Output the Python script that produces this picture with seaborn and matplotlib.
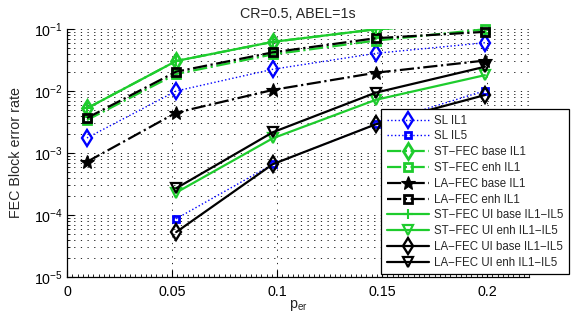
import numpy as np
import matplotlib
matplotlib.use("Agg")
import matplotlib.pyplot as plt
import matplotlib.ticker as mticker
import seaborn as sns

# ---- data ----
p_er = [0.0095, 0.052, 0.098, 0.147, 0.199]
sl_il1 = [1.75e-3, 1.0e-2, 2.24e-2, 4.05e-2, 6.0e-2]
sl_il5 = [np.nan, 8.7e-5, 6.6e-4, 2.9e-3, 1.01e-2]
st_base_il1 = [5.25e-3, 3.05e-2, 6.2e-2, 9.9e-2, 1.3e-1]
st_enh_il1 = [3.4e-3, 1.88e-2, 3.9e-2, 6.5e-2, 9.9e-2]
la_base_il1 = [7.2e-4, 4.47e-3, 1.04e-2, 1.97e-2, 3.1e-2]
la_enh_il1 = [3.67e-3, 2.05e-2, 4.2e-2, 7.1e-2, 9.0e-2]
st_ui_base = [5.25e-3, 3.05e-2, 6.2e-2, 9.9e-2, 1.3e-1]
st_ui_enh = [np.nan, 2.3e-4, 1.73e-3, 7.2e-3, 1.8e-2]
la_ui_base = [np.nan, 5.3e-5, 6.6e-4, 2.9e-3, 8.6e-3]
la_ui_enh = [np.nan, 2.7e-4, 2.16e-3, 9.4e-3, 2.46e-2]

labels = ["SL IL1", "SL IL5", "ST\u2212FEC base IL1", "ST\u2212FEC enh IL1",
          "LA\u2212FEC base IL1", "LA\u2212FEC enh IL1",
          "ST\u2212FEC UI base IL1\u2212IL5", "ST\u2212FEC UI enh IL1\u2212IL5",
          "LA\u2212FEC UI base IL1\u2212IL5", "LA\u2212FEC UI enh IL1\u2212IL5"]
x_ticks = [0, 0.05, 0.1, 0.15, 0.2]
x_ticklabels = ["0", "0.05", "0.1", "0.15", "0.2"]
y_ticks = [1e-5, 1e-4, 1e-3, 1e-2, 1e-1]
title = "CR=0.5, ABEL=1s"
ylabel = "FEC Block error rate"
xlabel = r"$\mathregular{p_{er}}$"

sns.set_style("ticks")
plt.rcParams["font.family"] = ["Liberation Sans", "DejaVu Sans"]
plt.rcParams["mathtext.fontset"] = "custom"
plt.rcParams["mathtext.rm"] = "Liberation Sans"
plt.rcParams["mathtext.default"] = "regular"

GREEN = "#1ecc2d"
BLUE = "#0000ff"
BLACK = "#000000"

fig = plt.figure(figsize=(5.71, 3.26), dpi=100)
ax = fig.add_axes([67 / 571, 49 / 326, 462 / 571, 248 / 326])

series = [
    (sl_il1, dict(color=BLUE, linestyle=":", linewidth=1.0, marker="d", markersize=8.5, mfc="none", mew=1.7)),
    (sl_il5, dict(color=BLUE, linestyle=":", linewidth=1.0, marker="s", markersize=5, mfc="none", mew=2.0)),
    (st_base_il1, dict(color=GREEN, linestyle="-.", linewidth=1.6, marker="d", markersize=8.5, mfc="none", mew=2.0)),
    (st_enh_il1, dict(color=GREEN, linestyle="-.", linewidth=1.6, marker="s", markersize=5.5, mfc="none", mew=2.0)),
    (la_base_il1, dict(color=BLACK, linestyle="-.", linewidth=1.6, marker="*", markersize=10.5, mfc=BLACK, mew=0.8)),
    (la_enh_il1, dict(color=BLACK, linestyle="-.", linewidth=1.6, marker="s", markersize=5.5, mfc="none", mew=2.0)),
    (st_ui_base, dict(color=GREEN, linestyle="-", linewidth=1.6, marker="+", markersize=6.5, mfc="none", mew=1.5)),
    (st_ui_enh, dict(color=GREEN, linestyle="-", linewidth=1.6, marker="v", markersize=7.5, mfc="none", mew=1.6)),
    (la_ui_base, dict(color=BLACK, linestyle="-", linewidth=1.6, marker="d", markersize=8.5, mfc="none", mew=1.7)),
    (la_ui_enh, dict(color=BLACK, linestyle="-", linewidth=1.6, marker="v", markersize=7.5, mfc="none", mew=1.6)),
]

handles = []
for (vals, st), lab in zip(series, labels):
    n_before = len(ax.lines)
    sns.lineplot(x=p_er, y=vals, ax=ax, label=lab,
                 color=st["color"], linestyle=st["linestyle"], linewidth=st["linewidth"],
                 marker=st["marker"], markersize=st["markersize"],
                 markerfacecolor=st["mfc"], markeredgecolor=st["color"],
                 markeredgewidth=st["mew"], legend=False)
    ln = ax.lines[n_before]
    # markers at the top edge are not cut, as in the reference
    if max(v for v in vals if not np.isnan(v)) <= 0.1:
        ln.set_clip_on(False)
    handles.append(ln)

ax.set_yscale("log")
ax.set_xlim(0, 0.22)
ax.set_ylim(1e-5, 1e-1)
ax.set_xticks(x_ticks)
ax.set_xticklabels(x_ticklabels)
ax.xaxis.set_minor_locator(mticker.MultipleLocator(0.0025))
ax.set_yticks(y_ticks)
ax.yaxis.set_major_formatter(mticker.LogFormatterMathtext())
ax.yaxis.set_minor_locator(mticker.LogLocator(base=10, subs=np.arange(2, 10)))
ax.yaxis.set_minor_formatter(mticker.NullFormatter())

ax.tick_params(which="both", direction="in", colors="k", labelsize=10.3)
ax.tick_params(axis="x", which="major", length=5, width=0.8, pad=6)
ax.tick_params(axis="y", which="major", length=5, width=0.8, pad=3)
ax.tick_params(which="minor", length=2.2, width=0.6)

grid_ls = (0, (1.5, 6.5))
ax.xaxis.grid(True, which="major", linestyle=grid_ls, color="k", linewidth=0.6)
ax.yaxis.grid(True, which="both", linestyle=grid_ls, color="k", linewidth=0.6)
ax.set_axisbelow(True)

sns.despine(ax=ax, top=True, right=True)
for s in ["left", "bottom"]:
    ax.spines[s].set_linewidth(0.9)
    ax.spines[s].set_color("k")

ax.set_title(title, fontsize=10.3, pad=8)
ax.set_ylabel(ylabel, fontsize=10.3)
ax.yaxis.set_label_coords(-0.095, 0.5)
ax.set_xlabel(xlabel, fontsize=10.3)
ax.xaxis.set_label_coords(0.5, -0.085)

leg = ax.legend(handles=handles, labels=labels, loc="lower right",
                bbox_to_anchor=(569 / 571, 52 / 326), bbox_transform=fig.transFigure,
                borderaxespad=0, fontsize=8.3, frameon=True, fancybox=False,
                handlelength=3.7, handletextpad=0.45, labelspacing=0.33,
                borderpad=0.45)
leg.get_frame().set_edgecolor("k")
leg.get_frame().set_linewidth(0.9)
leg.get_frame().set_facecolor("white")
leg.get_frame().set_alpha(1)
leg.set_zorder(10)

fig.savefig("out.png", dpi=100)
